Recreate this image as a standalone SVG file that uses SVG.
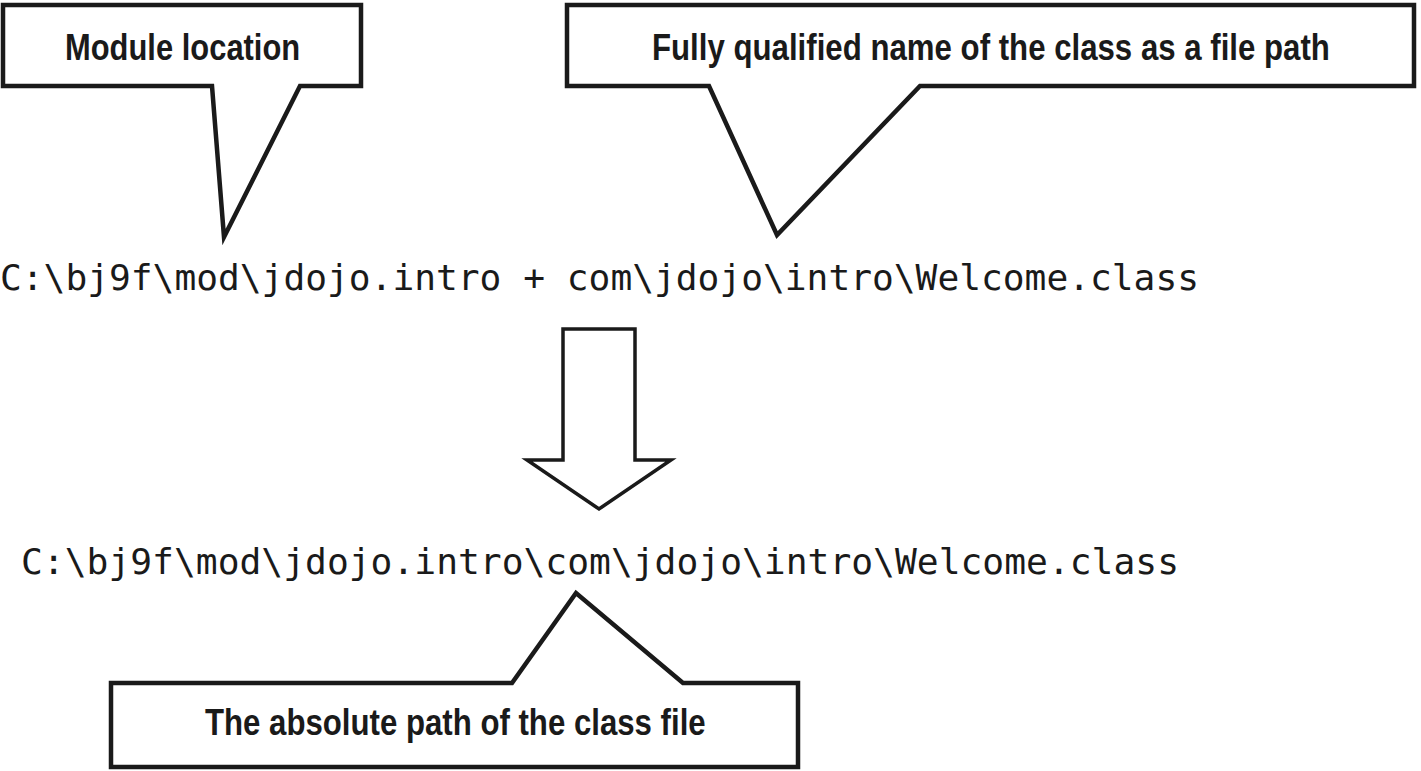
<svg xmlns="http://www.w3.org/2000/svg" width="1421" height="771" viewBox="0 0 1421 771">
<style>
.callout{fill:#fff;stroke:#1a1a1a;stroke-width:4.5;stroke-linejoin:miter}
.lbl{font-family:"Liberation Sans",Arial,sans-serif;font-weight:bold;font-size:37px;fill:#1a1a1a}
.code{font-family:"DejaVu Sans Mono","Liberation Mono",monospace;font-size:36px;fill:#1a1a1a}
.arrow{fill:#fff;stroke:#1a1a1a;stroke-width:3.5;stroke-linejoin:miter}
</style>
<rect width="1421" height="771" fill="#fff"/>
<g id="callout-module">
<path class="callout" d="M3,5 H361 V86 H300 L224,237 L212,86 H3 Z"/>
<text class="lbl" transform="translate(65,60) scale(0.84,1)" x="0" y="0" textLength="280" lengthAdjust="spacingAndGlyphs">Module location</text>
</g>
<g id="callout-fqn">
<path class="callout" d="M567,5 H1414 V86 H920 L777,235 L709,86 H567 Z"/>
<text class="lbl" transform="translate(652,60) scale(0.84,1)" x="0" y="0" textLength="807" lengthAdjust="spacingAndGlyphs">Fully qualified name of the class as a file path</text>
</g>
<g id="expr">
<text class="code" x="0" y="290" textLength="1199" lengthAdjust="spacingAndGlyphs">C:\bj9f\mod\jdojo.intro + com\jdojo\intro\Welcome.class</text>
</g>
<g id="connectors">
<polygon class="arrow" points="563,329 635,329 635,460 671,460 599,509 527,460 563,460"/>
</g>
<g id="result">
<text class="code" x="21" y="574" textLength="1158" lengthAdjust="spacingAndGlyphs">C:\bj9f\mod\jdojo.intro\com\jdojo\intro\Welcome.class</text>
</g>
<g id="callout-abs">
<path class="callout" d="M111,683 H512 L576,593 L683,683 H798 V767 H111 Z"/>
<text class="lbl" transform="translate(205,735) scale(0.84,1)" x="0" y="0" textLength="596" lengthAdjust="spacingAndGlyphs">The absolute path of the class file</text>
</g>
</svg>
